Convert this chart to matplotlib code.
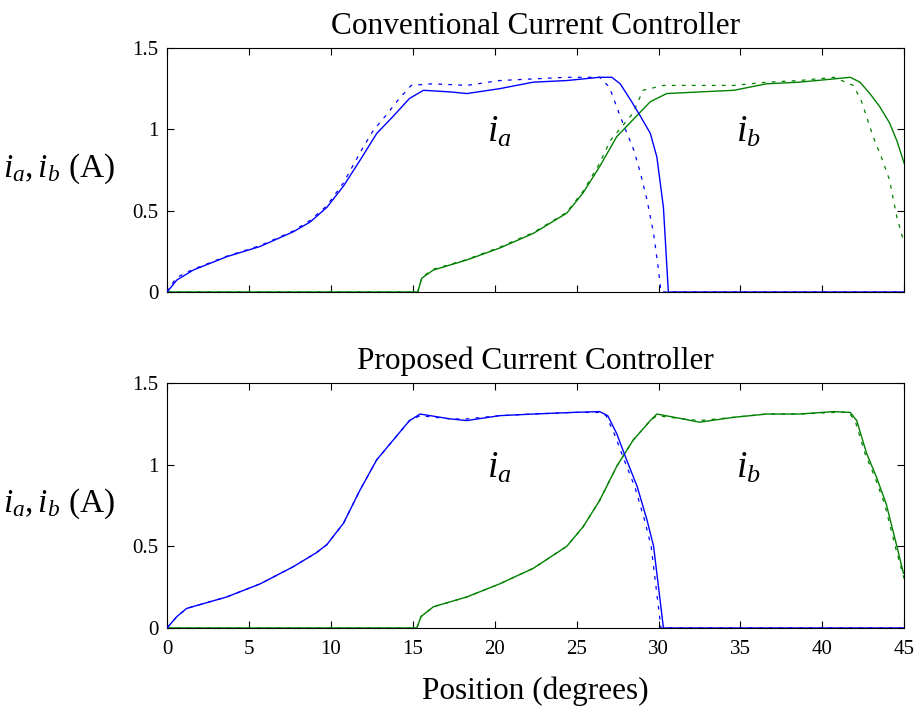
import numpy as np
import matplotlib.pyplot as plt

plt.rcParams['font.family'] = ['Liberation Serif', 'DejaVu Serif']
plt.rcParams['mathtext.fontset'] = 'custom'
plt.rcParams['mathtext.rm'] = 'Liberation Serif'
plt.rcParams['mathtext.it'] = 'Liberation Serif:italic'

# conventional controller - measured (solid) and reference (dashed)
conv_ia_x = [0, 0.08, 0.6, 1.6, 3.64, 5.68, 7.7, 8.73, 9.75, 10.76, 11.78, 12.8, 13.8, 14.8, 15.65,
             17.3, 18.3, 20.3, 22.35, 24.4, 26.4, 27.15, 27.66, 28.3, 28.9, 29.5, 29.9, 30.3, 30.6, 45]
conv_ia_y = [0, 0.01, 0.074, 0.135, 0.217, 0.28, 0.37, 0.43, 0.52, 0.65, 0.81, 0.975, 1.08, 1.19, 1.24,
             1.23, 1.22, 1.25, 1.29, 1.30, 1.32, 1.32, 1.28, 1.18, 1.08, 0.975, 0.83, 0.52, 0.0, 0.0]
conv_ia_ref_x = [0, 0.08, 0.6, 1.6, 3.64, 5.68, 7.7, 8.73, 9.75, 10.76, 11.97, 12.6, 13.4, 14.1, 14.9,
                 16.2, 18.3, 20.3, 22.35, 24.4, 26.4, 27.0, 27.66, 28.5, 28.9, 29.3, 29.7, 30.0, 30.15, 45]
conv_ia_ref_y = [0, 0.02, 0.09, 0.14, 0.22, 0.285, 0.375, 0.44, 0.53, 0.67, 0.89, 0.995, 1.09, 1.18, 1.27,
                 1.28, 1.27, 1.30, 1.31, 1.32, 1.32, 1.26, 1.08, 0.87, 0.73, 0.565, 0.36, 0.135, 0.0, 0.0]
conv_ib_x = [0, 15.3, 15.55, 16.25, 18.3, 20.3, 22.35, 24.4, 25.4, 26.4, 27.45, 28.45, 29.5, 30.5,
             32.5, 34.6, 36.6, 38.6, 40.7, 41.7, 42.3, 42.9, 43.5, 44.1, 44.55, 45]
conv_ib_y = [0, 0, 0.085, 0.135, 0.197, 0.27, 0.36, 0.485, 0.61, 0.77, 0.955, 1.06, 1.17, 1.22,
             1.23, 1.24, 1.28, 1.29, 1.31, 1.32, 1.29, 1.22, 1.14, 1.04, 0.93, 0.79]
conv_ib_ref_x = [0, 15.3, 15.55, 16.25, 18.3, 20.3, 22.35, 24.4, 25.4, 26.4, 27.05, 28.45, 29.05, 30.3,
                 32.5, 34.6, 36.6, 38.6, 40.7, 41.9, 42.4, 43.1, 43.6, 44.1, 44.55, 45]
conv_ib_ref_y = [0, 0, 0.09, 0.14, 0.2, 0.275, 0.365, 0.49, 0.62, 0.79, 0.93, 1.10, 1.24, 1.27,
                 1.27, 1.27, 1.29, 1.30, 1.32, 1.27, 1.17, 0.955, 0.83, 0.69, 0.46, 0.3]

# proposed controller
prop_ia_x = [0, 0.08, 0.6, 1.2, 3.64, 5.68, 7.7, 9.1, 9.75, 10.76, 11.78, 12.8, 13.8, 14.8, 15.45,
             17.3, 18.3, 20.3, 22.35, 24.8, 26.4, 26.9, 27.45, 28.05, 28.7, 29.3, 29.7, 30.0, 30.3, 45]
prop_ia_y = [0, 0.01, 0.07, 0.12, 0.19, 0.27, 0.375, 0.46, 0.51, 0.64, 0.845, 1.03, 1.15, 1.27, 1.31,
             1.28, 1.27, 1.30, 1.31, 1.32, 1.325, 1.30, 1.19, 1.03, 0.865, 0.66, 0.50, 0.25, 0.0, 0.0]
prop_ia_ref_x = [0, 0.08, 0.6, 1.2, 3.64, 5.68, 7.7, 9.1, 9.75, 10.76, 11.78, 12.8, 13.8, 14.8, 15.45,
                 17.3, 18.3, 20.3, 22.35, 24.8, 26.4, 26.8, 27.3, 27.9, 28.55, 29.15, 29.55, 29.85, 30.15, 45]
prop_ia_ref_y = [0, 0.01, 0.07, 0.12, 0.19, 0.27, 0.375, 0.46, 0.51, 0.64, 0.845, 1.03, 1.15, 1.27, 1.30,
                 1.28, 1.28, 1.30, 1.31, 1.32, 1.32, 1.30, 1.19, 1.03, 0.865, 0.66, 0.50, 0.25, 0.0, 0.0]
prop_ib_x = [0, 15.25, 15.5, 16.26, 18.3, 20.3, 22.35, 24.4, 25.4, 26.4, 27.45, 28.45, 29.5, 29.9,
             31.5, 32.5, 34.6, 36.6, 38.6, 40.7, 41.7, 42.1, 42.7, 43.3, 43.9, 44.3, 44.6, 44.95]
prop_ib_y = [0, 0, 0.07, 0.13, 0.19, 0.27, 0.365, 0.50, 0.62, 0.78, 0.99, 1.15, 1.27, 1.31,
             1.28, 1.26, 1.29, 1.31, 1.31, 1.325, 1.32, 1.27, 1.07, 0.925, 0.76, 0.60, 0.48, 0.335]
prop_ib_ref_x = [0, 15.25, 15.5, 16.26, 18.3, 20.3, 22.35, 24.4, 25.4, 26.4, 27.45, 28.45, 29.5, 29.9,
                 31.5, 32.5, 34.6, 36.6, 38.6, 40.7, 41.6, 42.0, 42.6, 43.2, 43.8, 44.2, 44.5, 45]
prop_ib_ref_y = [0, 0, 0.07, 0.13, 0.19, 0.27, 0.365, 0.50, 0.62, 0.78, 0.99, 1.15, 1.27, 1.30,
                 1.28, 1.27, 1.29, 1.31, 1.31, 1.32, 1.32, 1.27, 1.07, 0.925, 0.76, 0.60, 0.48, 0.3]

blue = '#0000ff'
green = '#008000'
dash = (0, (3, 5))

fig = plt.figure(figsize=(9.18, 7.06), dpi=100)
ax1 = fig.add_axes([0.182, 0.5864, 0.803, 0.3456])
ax2 = fig.add_axes([0.182, 0.1105, 0.803, 0.347])

panels = [
    (ax1, 'Conventional Current Controller',
     (conv_ia_x, conv_ia_y), (conv_ia_ref_x, conv_ia_ref_y),
     (conv_ib_x, conv_ib_y), (conv_ib_ref_x, conv_ib_ref_y)),
    (ax2, 'Proposed Current Controller',
     (prop_ia_x, prop_ia_y), (prop_ia_ref_x, prop_ia_ref_y),
     (prop_ib_x, prop_ib_y), (prop_ib_ref_x, prop_ib_ref_y)),
]

for ax, title, ia, ia_ref, ib, ib_ref in panels:
    ax.plot(ib_ref[0], ib_ref[1], color=green, lw=0.9, linestyle=dash, zorder=3)
    ax.plot(ia_ref[0], ia_ref[1], color=blue, lw=0.9, linestyle=dash, zorder=3)
    ax.plot(ib[0], ib[1], color=green, lw=1.0, zorder=3)
    ax.plot(ia[0], ia[1], color=blue, lw=1.0, zorder=3)
    ax.set_xlim(0, 45)
    ax.set_ylim(0, 1.5)
    ax.set_xticks(np.arange(0, 46, 5))
    ax.set_yticks([0, 0.5, 1, 1.5])
    ax.set_yticklabels(['0', '0.5', '1', '1.5'])
    ax.tick_params(direction='in', top=True, right=True, length=5, labelsize=15, pad=6)
    ax.tick_params(axis='x', pad=9)
    ax.set_title(title, fontsize=22.5, pad=10)
    ax.text(20.3, 0.98, r'$i_a$', fontsize=27, ha='center', va='center')
    ax.text(35.5, 0.98, r'$i_b$', fontsize=27, ha='center', va='center')
    ax.text(-3.2, 0.76, r'$i_a, i_b$ (A)', fontsize=24, ha='right', va='center')

ax1.tick_params(labelbottom=False)
ax2.set_xlabel('Position (degrees)', fontsize=22.5, labelpad=12)

fig.savefig('out.png', dpi=100)
